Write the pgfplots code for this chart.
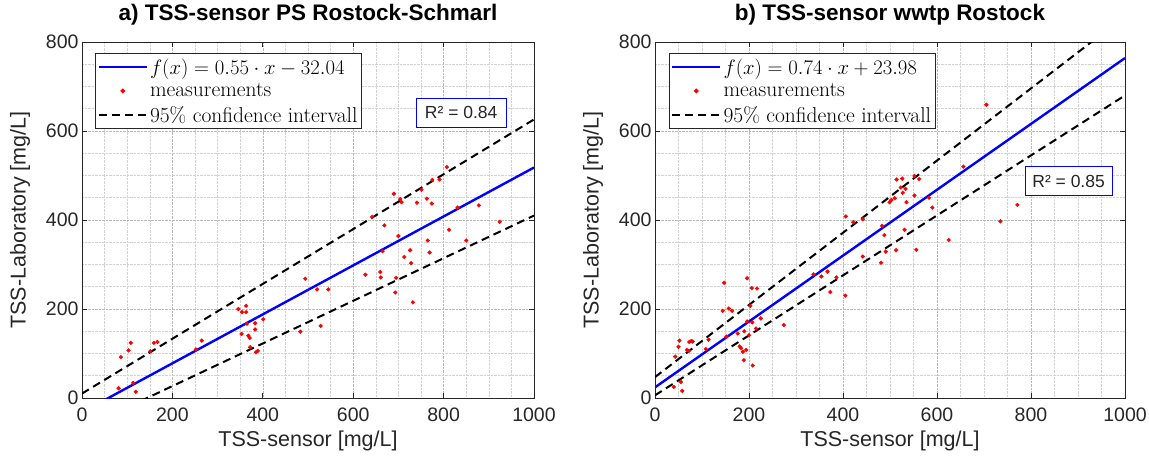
\documentclass[border=0pt]{standalone}
\usepackage{fontspec}
\usepackage{pgfplots}
\pgfplotsset{compat=1.18}
\newfontfamily\arial{Liberation Sans}
\definecolor{mgray}{rgb}{0.15,0.15,0.15}

% measurements, PS Rostock-Schmarl
\pgfplotstableread{
x y
86 92
103 107
108 124
81 22
113 34
119 14
151 105
159 124
167 126
252 109
265 129
346 200
354 193
363 193
363 207
365 167
353 144
368 140
371 135
372 114
383 168
383 154
385 103
389 106
401 177
483 149
494 268
520 244
545 244
528 162
627 277
642 407
660 283
661 271
665 330
669 388
690 459
693 237
695 270
700 364
704 447
707 440
713 317
726 332
728 303
732 215
741 439
751 468
763 448
765 354
769 327
774 437
775 490
791 491
807 519
812 378
831 428
850 354
878 433
924 396
}\schmarl

% measurements, wwtp Rostock
\pgfplotstableread{
x y
40 25
58 16
55 36
43 93
52 129
50 115
68 108
73 126
77 128
80 127
72 106
108 110
114 131
147 259
144 196
157 201
164 196
152 138
176 145
180 116
183 112
187 104
189 85
190 150
196 269
194 108
196 172
200 141
203 207
206 247
207 170
208 73
215 156
217 246
225 179
274 164
337 278
354 273
367 284
373 238
386 271
405 230
406 408
422 395
442 402
442 318
481 304
483 387
488 366
491 329
513 332
514 491
526 493
499 440
503 445
510 449
523 473
527 461
533 470
531 378
535 440
552 499
562 492
552 455
556 333
583 450
590 428
625 355
656 520
705 659
735 397
771 434
}\wwtp

\pgfplotsset{
  tsspanel/.style={
    scale only axis,
    height=356pt,
    xmin=0, xmax=1000, ymin=0, ymax=800,
    xtick={0,200,...,1000}, ytick={0,200,...,800},
    minor x tick num=3, minor y tick num=3,
    grid=both,
    major grid style={densely dotted, gray!55, line width=0.6pt},
    minor grid style={densely dotted, gray!35, line width=0.6pt},
    tick align=inside, tick pos=both,
    major tick length=5pt, minor tick length=0pt,
    axis line style={mgray, line width=1pt},
    every tick/.style={mgray, line width=1pt},
    /pgf/number format/assume math mode=true,
    /pgf/number format/1000 sep={},
    tick label style={font=\arial\fontsize{19.5}{22}\selectfont, text=mgray},
    xticklabel style={yshift=-6pt},
    label style={font=\arial\fontsize{21.5}{24}\selectfont, text=mgray},
    xlabel style={yshift=-3pt},
    ylabel style={yshift=9pt},
    xlabel={TSS-sensor [mg/L]},
    ylabel={TSS-Laboratory [mg/L]},
    title style={font=\arial\bfseries\fontsize{22.5}{26}\selectfont, yshift=7pt},
    legend image code/.code={\draw[mark repeat=2,mark phase=2,##1] plot coordinates {(0pt,0pt) (24pt,0pt) (48pt,0pt)};},
    legend style={at={(0.029,0.969)}, anchor=north west, draw=mgray, line width=1pt,
      font=\fontsize{21.5}{24}\selectfont, inner xsep=2pt, inner ysep=3pt,
      row sep=4pt, cells={anchor=west}},
  },
  fitline/.style={blue, line width=2.4pt},
  meas/.style={only marks, mark=*, mark size=1.9pt, red, mark options={draw=none, fill=red}},
  conf/.style={black, line width=2pt, dash pattern=on 8pt off 5pt},
}

\begin{document}
\begin{tikzpicture}[x=1pt, y=1pt]
\useasboundingbox (0,0) rectangle (1149,-459);

\begin{axis}[tsspanel, width=452pt, at={(82pt,-398pt)}, anchor=south west,
  title={a) TSS-sensor PS Rostock-Schmarl}]
  \addplot[fitline] coordinates {(0,-32.04) (1000,517.96)};
  \addlegendentry{$f(x) = 0.55 \cdot x - 32.04$}
  \addplot[meas] table[x=x, y=y] {\schmarl};
  \addlegendentry{measurements}
  \addplot[conf] coordinates {(0,10) (1000,626)};
  \addlegendentry{95\% confidence intervall}
  \addplot[conf, forget plot] coordinates {(0,-69) (1000,410)};
  \node[draw=blue, line width=1pt, fill=white, minimum width=90pt, minimum height=29pt,
    inner sep=0pt, font=\arial\fontsize{17.5}{20}\selectfont, text=mgray]
    at (axis cs:839,641) {R² = 0.84};
\end{axis}

\begin{axis}[tsspanel, width=470pt, at={(655pt,-398pt)}, anchor=south west,
  title={b) TSS-sensor wwtp Rostock}]
  \addplot[fitline] coordinates {(0,23.98) (1000,763.98)};
  \addlegendentry{$f(x) = 0.74 \cdot x + 23.98$}
  \addplot[meas] table[x=x, y=y] {\wwtp};
  \addlegendentry{measurements}
  \addplot[conf] coordinates {(0,47) (1000,858)};
  \addlegendentry{95\% confidence intervall}
  \addplot[conf, forget plot] coordinates {(0,6) (1000,680)};
  \node[draw=blue, line width=1pt, fill=white, minimum width=87pt, minimum height=29pt,
    inner sep=0pt, font=\arial\fontsize{17.5}{20}\selectfont, text=mgray]
    at (axis cs:880,487) {R² = 0.85};
\end{axis}
\end{tikzpicture}
\end{document}
